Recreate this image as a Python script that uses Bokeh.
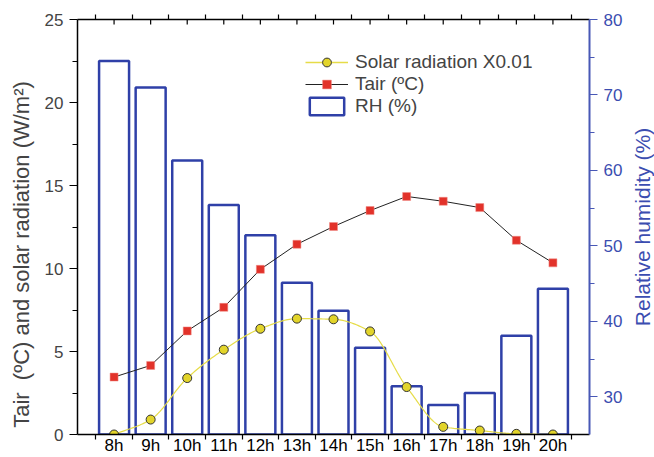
import math
import numpy as np
from bokeh.plotting import figure
from bokeh.layouts import row
from bokeh.models import (Range1d, LinearAxis, FixedTicker, Legend, LegendItem,
                          ColumnDataSource, Title)
from bokeh.embed import file_html
from bokeh.resources import INLINE

# ---- data ----
hours = [8, 9, 10, 11, 12, 13, 14, 15, 16, 17, 18, 19, 20]
hour_labels = ["8h", "9h", "10h", "11h", "12h", "13h", "14h", "15h", "16h",
               "17h", "18h", "19h", "20h"]
rh = [74.5, 71.0, 61.3, 55.4, 51.4, 45.1, 41.4, 36.5, 31.4, 28.9, 30.5, 38.1, 44.3]
tair = [3.46, 4.16, 6.24, 7.66, 9.95, 11.46, 12.53, 13.49, 14.34, 14.05, 13.67, 11.70, 10.34]
solar = [0.0, 0.90, 3.40, 5.11, 6.37, 6.98, 6.94, 6.21, 2.86, 0.46, 0.24, 0.04, 0.0]

left_ticks = [0, 5, 10, 15, 20, 25]
right_ticks = [30, 40, 50, 60, 70, 80]

FONT = "Liberation Sans"
BLUE_AX = "#4858b6"
BLUE_TXT = "#3b4db0"
BAR_BLUE = "#2f40a8"


def smooth_curve(x, y, n=24):
    """Monotone cubic Hermite curve through the data points (for drawing only)."""
    x = np.asarray(x, float)
    y = np.asarray(y, float)
    h = np.diff(x)
    d = np.diff(y) / h
    m = np.zeros_like(y)
    m[0], m[-1] = d[0], d[-1]
    for k in range(1, len(y) - 1):
        if d[k - 1] * d[k] > 0:
            m[k] = 2.0 / (1.0 / d[k - 1] + 1.0 / d[k])
    xs, ys = [], []
    for k in range(len(x) - 1):
        t = np.linspace(0, 1, n, endpoint=False)
        h00 = 2 * t**3 - 3 * t**2 + 1
        h10 = t**3 - 2 * t**2 + t
        h01 = -2 * t**3 + 3 * t**2
        h11 = t**3 - t**2
        xs.extend(x[k] + t * h[k])
        ys.extend(h00 * y[k] + h10 * h[k] * m[k] + h01 * y[k + 1] + h11 * h[k] * m[k + 1])
    xs.append(x[-1])
    ys.append(y[-1])
    return xs, ys


src = ColumnDataSource(dict(x=hours, rh=rh, tair=tair, solar=solar))

p = figure(width=625, height=457, x_range=Range1d(7, 21), y_range=Range1d(0, 25),
           output_backend="svg", toolbar_location=None,
           min_border_left=77, min_border_right=34, min_border_top=19, min_border_bottom=23)
p.outline_line_color = None
p.xgrid.visible = False
p.ygrid.visible = False
p.background_fill_color = "white"
p.border_fill_color = "white"

p.extra_y_ranges = {"rh": Range1d(25, 80)}

# bars (RH)
bars = p.vbar(x="x", top="rh", bottom=25, width=0.82, source=src, y_range_name="rh",
              fill_color="white", fill_alpha=0.0, line_color=BAR_BLUE, line_width=2.5)

# inward mirror ticks of the top axis at each category
p.scatter(x="x", y=25, source=src, marker="dash", angle=math.pi / 2, size=10,
          line_color="black", line_width=1.2)

# Tair
tl = p.line(x="x", y="tair", source=src, line_color="#222222", line_width=1)
ts = p.scatter(x="x", y="tair", source=src, marker="square", size=8,
               fill_color="#e2322a", line_color="#f08a84", line_width=0.5)

# Solar radiation
sx, sy = smooth_curve(hours, solar)
sl = p.line(sx, sy, line_color="#e6dc48", line_width=1.2)
sl_leg = p.line(x="x", y="solar", source=src, line_color="#e6dc48", line_width=1.5, visible=False)
sc = p.scatter(x="x", y="solar", source=src, marker="circle", size=9,
               fill_color="#e2d42a", line_color="#333333", line_width=1)

# bottom axis: labels at categories, ticks between them
xa = p.xaxis[0]
xa.axis_label = None
xa.axis_label_standoff = 0
xa.ticker = FixedTicker(ticks=hours, minor_ticks=[h + 0.5 for h in [7] + hours])
xa.major_label_overrides = {h: lab for h, lab in zip(hours, hour_labels)}
xa.major_tick_out = 0
xa.major_tick_in = 0
xa.minor_tick_out = 5
xa.minor_tick_in = 0
xa.major_label_standoff = -4
xa.axis_line_color = "black"
xa.axis_line_width = 1.5
xa.minor_tick_line_color = "black"
xa.minor_tick_line_width = 1.2
xa.major_label_text_font = FONT
xa.major_label_text_font_size = "17px"
xa.major_label_text_color = "black"

# top axis (mirror, no labels)
top = LinearAxis(ticker=FixedTicker(ticks=[], minor_ticks=[h + 0.5 for h in [7] + hours]))
top.axis_label = None
top.major_tick_out = 0
top.major_tick_in = 0
top.minor_tick_out = 5
top.minor_tick_in = 0
top.axis_line_color = "black"
top.axis_line_width = 1.5
top.minor_tick_line_color = "black"
top.minor_tick_line_width = 1.2
p.add_layout(top, "above")

# left axis
ya = p.yaxis[0]
ya.ticker = FixedTicker(ticks=left_ticks, minor_ticks=[2.5, 7.5, 12.5, 17.5, 22.5])
ya.major_tick_out = 8
ya.major_tick_in = 0
ya.minor_tick_out = 5
ya.minor_tick_in = 0
ya.axis_line_color = "black"
ya.axis_line_width = 1.5
ya.major_tick_line_width = 1.2
ya.minor_tick_line_width = 1.2
ya.major_label_standoff = 6
ya.major_label_text_font = FONT
ya.major_label_text_font_size = "17px"
ya.axis_label = "Tair\u00a0 (ºC) and solar radiation (W/m²)" + "\u00a0" * 9
ya.axis_label_text_font = FONT
ya.axis_label_text_font_size = "22px"
ya.axis_label_text_font_style = "normal"
ya.axis_label_standoff = 8

# right axis (ticks + tick labels; its title is drawn in the strip to the right)
ra = LinearAxis(y_range_name="rh",
                ticker=FixedTicker(ticks=right_ticks, minor_ticks=[35, 45, 55, 65, 75]))
ra.axis_label = None
ra.major_tick_out = 8
ra.major_tick_in = 0
ra.minor_tick_out = 5
ra.minor_tick_in = 0
ra.axis_line_color = BLUE_AX
ra.axis_line_width = 2
ra.major_tick_line_color = BLUE_AX
ra.minor_tick_line_color = BLUE_AX
ra.major_tick_line_width = 1.2
ra.minor_tick_line_width = 1.2
ra.major_label_standoff = 6
ra.major_label_text_font = FONT
ra.major_label_text_font_size = "17px"
ra.major_label_text_color = BLUE_TXT
p.add_layout(ra, "right")

legend = Legend(items=[
    LegendItem(label="Solar radiation X0.01", renderers=[sl_leg, sc]),
    LegendItem(label="Tair (ºC)", renderers=[tl, ts]),
    LegendItem(label="RH (%)", renderers=[bars]),
], location=(228, 317))
legend.padding = 0
legend.margin = 0
legend.spacing = 0
legend.glyph_width = 43
legend.glyph_height = 22
legend.label_height = 22
legend.label_standoff = 7
legend.label_text_font = FONT
legend.label_text_font_size = "19px"
legend.border_line_color = None
legend.background_fill_alpha = 0
p.add_layout(legend)

# narrow strip holding the right-hand axis title (reads bottom-to-top)
p2 = figure(width=29, height=457, output_backend="svg", toolbar_location=None,
            x_range=Range1d(0, 1), y_range=p.y_range,
            min_border_left=28, min_border_right=0, min_border_top=19, min_border_bottom=23)
p2.axis.visible = False
p2.grid.visible = False
p2.outline_line_color = None
p2.background_fill_color = "white"
p2.border_fill_color = "white"
rt = Title(text="Relative humidity (%)", align="center", standoff=0, offset=0,
           text_font=FONT, text_font_size="21px", text_font_style="normal",
           text_color=BLUE_TXT)
p2.add_layout(rt, "left")

open("out.html", "w").write(file_html(row(p, p2), INLINE))
